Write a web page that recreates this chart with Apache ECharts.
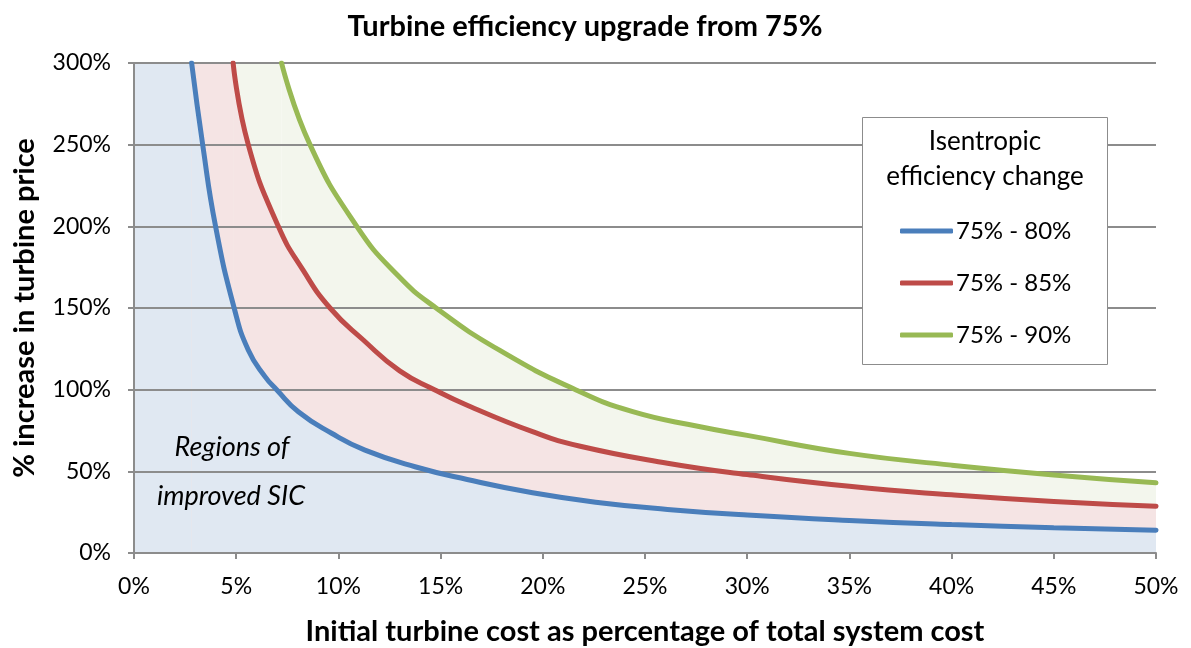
<!DOCTYPE html>
<html><head><meta charset="utf-8">
<script src="https://cdn.jsdelivr.net/npm/echarts@6/dist/echarts.min.js"></script>
<style>html,body{margin:0;padding:0;background:#fff}#c{width:1191px;height:648px}</style>
</head><body><div id="c"></div>
<script>
// ---- data ----
const seriesNames = ['75% - 80%', '75% - 85%', '75% - 90%'];
const xTicks = [0, 5, 10, 15, 20, 25, 30, 35, 40, 45, 50];
const yTicks = [0, 50, 100, 150, 200, 250, 300];

const blueX = [2.82, 3.36, 3.99, 4.9, 5.59, 6.41, 6.98, 8.04, 9.67, 11.3, 13.75, 16.3, 19.5, 22.8, 26.1, 30, 35, 40, 45, 50];
const blueY = [300, 250, 200, 150, 124.3, 108, 100, 86.5, 73.3, 63, 52.8, 45, 36.9, 30.8, 26.7, 23.2, 19.9, 17.4, 15.5, 14];

const redX = [4.85, 5.59, 7.06, 8.28, 9.59, 11.22, 13, 14.7, 16.3, 19.5, 21.78, 26.1, 30, 35, 40, 45, 50];
const redY = [300, 250, 200, 173, 150, 130.4, 111.5, 100, 90.5, 74.3, 65.5, 55, 48, 40.8, 35.6, 31.5, 28.6];

const greenX = [7.22, 8.61, 10.9, 12.9, 14.78, 17.9, 21.6, 24.4, 27.7, 30, 35, 40, 45, 50];
const greenY = [300, 250, 200, 170, 150, 124, 100, 86.5, 77.3, 72, 61, 53.8, 47.8, 43];

const lineColors = ['#4a7ebb', '#be4b48', '#98b954'];
const fillColors = ['#e0e8f2', '#f5e4e4', '#f3f6ed'];

// ---- build ----
const zip = (xs, ys) => xs.map((x, i) => [x, ys[i]]);
const curveX = [blueX, redX, greenX];
const curves = [zip(blueX, blueY), zip(redX, redY), zip(greenX, greenY)];
const FONT = 'Lato, "Open Sans", sans-serif';
const SMOOTH = 0.5;
const yMax = yTicks[yTicks.length - 1];

const series = [];
// areas: green first (z1), then red (z2), then blue on top (z3)
[2, 1, 0].forEach((i, k) => {
  series.push({
    name: 'area' + i,
    type: 'line',
    data: curves[i],
    smooth: SMOOTH,
    showSymbol: false,
    symbol: 'none',
    lineStyle: { width: 0, opacity: 0 },
    areaStyle: { color: fillColors[i], opacity: 1 },
    z: k + 1,
    silent: true,
    markArea: {
      silent: true,
      z: k + 1,
      itemStyle: { color: fillColors[i], opacity: 1, borderWidth: 0 },
      label: { show: false },
      data: [[{ xAxis: 0, yAxis: 0 }, { xAxis: curveX[i][0], yAxis: yMax }]]
    }
  });
});
[0, 1, 2].forEach(i => {
  series.push({
    name: seriesNames[i],
    type: 'line',
    data: curves[i],
    smooth: SMOOTH,
    showSymbol: false,
    symbol: 'none',
    color: lineColors[i],
    lineStyle: { width: 5, color: lineColors[i], cap: 'round' },
    z: 6
  });
});

const chart = echarts.init(document.getElementById('c'), null, { renderer: 'canvas' });
chart.setOption({
  backgroundColor: '#fff',
  animation: false,
  textStyle: { fontFamily: FONT },
  grid: { left: 134, right: 35, top: 63, bottom: 95, containLabel: false, outerBoundsMode: 'none' },
  xAxis: {
    type: 'value', min: xTicks[0], max: xTicks[xTicks.length - 1], interval: 5,
    name: 'Initial turbine cost as percentage of total system cost',
    nameLocation: 'middle', nameGap: 64,
    nameTextStyle: { fontFamily: FONT, fontSize: 29, fontWeight: 'bold', color: '#000' },
    axisLine: { show: true, lineStyle: { color: '#8c8c8c', width: 2 } },
    axisTick: { show: true, inside: false, length: 6, lineStyle: { color: '#8c8c8c', width: 2 } },
    axisLabel: { formatter: v => v + '%', fontFamily: FONT, fontSize: 23, color: '#000', margin: 22 },
    splitLine: { show: false },
    z: 5
  },
  yAxis: {
    type: 'value', min: yTicks[0], max: yMax, interval: 50,
    name: '% increase in turbine price',
    nameLocation: 'middle', nameGap: 95, nameRotate: 90,
    nameTextStyle: { fontFamily: FONT, fontSize: 29, fontWeight: 'bold', color: '#000' },
    axisLine: { show: true, lineStyle: { color: '#8c8c8c', width: 2 } },
    axisTick: { show: true, inside: false, length: 6, lineStyle: { color: '#8c8c8c', width: 2 } },
    axisLabel: { formatter: v => v + '%', fontFamily: FONT, fontSize: 23, color: '#000', margin: 23 },
    splitLine: { show: true, lineStyle: { color: '#8c8c8c', width: 2 } },
    z: 5
  },
  legend: {
    data: seriesNames,
    orient: 'vertical',
    left: 900, top: 219,
    itemWidth: 53, itemHeight: 5, itemGap: 28,
    icon: 'roundRect',
    padding: 0,
    textStyle: { fontFamily: FONT, fontSize: 24, color: '#000', padding: [0, 0, 0, -2] },
    z: 10
  },
  graphic: [
    { type: 'text', x: 585, y: 27, z: 10,
      style: { text: 'Turbine efficiency upgrade from 75%', font: 'bold 29px ' + FONT, fill: '#000', align: 'center', verticalAlign: 'middle' } },
    { type: 'rect', shape: { x: 862.5, y: 117.5, width: 245, height: 247 }, z: 9,
      style: { fill: '#fff', stroke: '#8c8c8c', lineWidth: 1 } },
    { type: 'text', x: 985, y: 142, z: 10,
      style: { text: 'Isentropic', font: '26px ' + FONT, fill: '#000', align: 'center', verticalAlign: 'middle' } },
    { type: 'text', x: 985, y: 177, z: 10,
      style: { text: 'efficiency change', font: '26px ' + FONT, fill: '#000', align: 'center', verticalAlign: 'middle' } },
    { type: 'text', x: 232, y: 447, z: 10,
      style: { text: 'Regions of', font: 'italic 27px ' + FONT, fill: '#000', align: 'center', verticalAlign: 'middle' } },
    { type: 'text', x: 231, y: 496, z: 10,
      style: { text: 'improved SIC', font: 'italic 27px ' + FONT, fill: '#000', align: 'center', verticalAlign: 'middle' } }
  ],
  series: series
});
</script>
</body></html>
